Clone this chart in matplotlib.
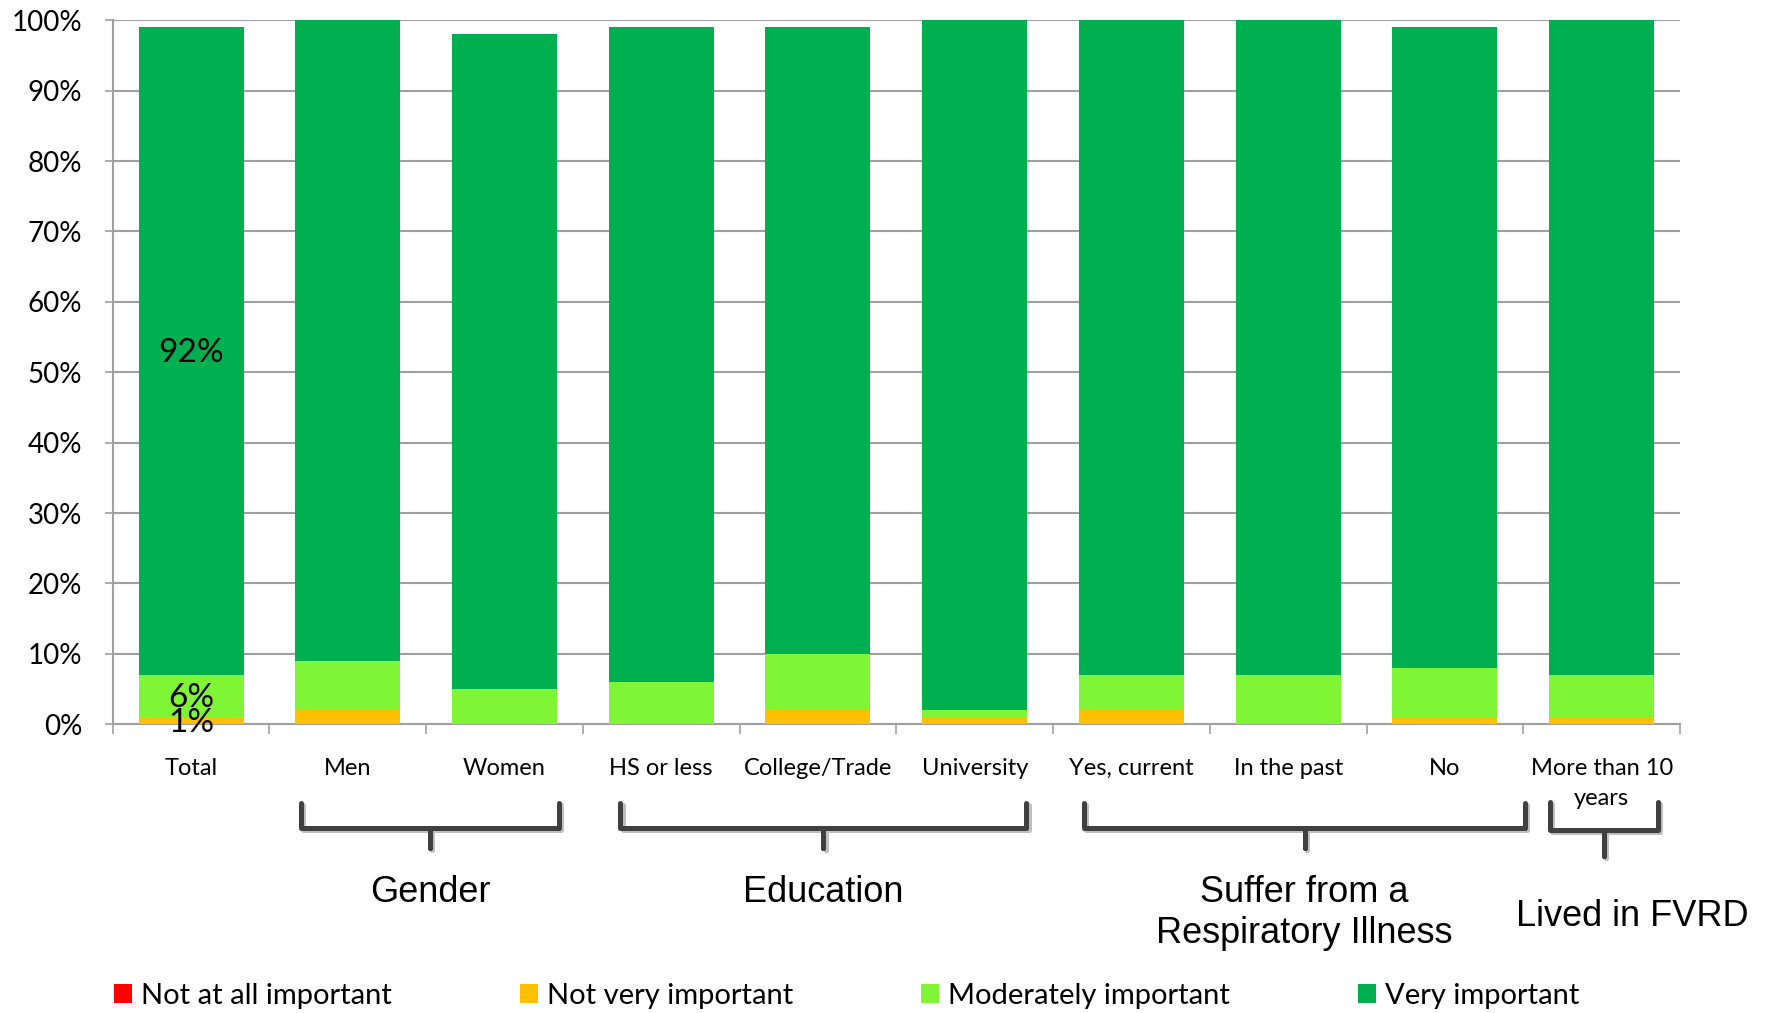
import matplotlib
matplotlib.use("Agg")
import matplotlib.pyplot as plt
import matplotlib.patheffects as pe
import numpy as np
from matplotlib.transforms import blended_transform_factory

# data (percent of respondents)
categories = ["Total", "Men", "Women", "HS or less", "College/Trade", "University",
              "Yes, current", "In the past", "No", "More than 10\nyears"]
not_at_all = [0, 0, 0, 0, 0, 0, 0, 0, 0, 0]
not_very = [1, 2, 0, 0, 2, 1, 2, 0, 1, 1]
moderately = [6, 7, 5, 6, 8, 1, 5, 7, 7, 6]
very = [92, 91, 93, 93, 89, 98, 93, 93, 91, 93]
series_names = ["Not at all important", "Not very important",
                "Moderately important", "Very important"]
groups = ["Gender", "Education", "Suffer from a\nRespiratory Illness", "Lived in FVRD"]
group_members = [(1, 2), (3, 5), (6, 8), (9, 9)]

colors = ["#FF0000", "#FFC000", "#80F535", "#00B050"]
grid_c = "#A0A0A0"

fig = plt.figure(figsize=(17.66, 10.13), dpi=100)
ax = fig.add_axes([0.0638, 0.285, 0.8875, 0.695])

x = np.arange(len(categories))
bottom = np.zeros(len(categories))
for vals, name, col in zip([not_at_all, not_very, moderately, very], series_names, colors):
    vals = np.array(vals, dtype=float)
    ax.bar(x, vals, 0.67, bottom=bottom, color=col, label=name, edgecolor="none", zorder=3)
    bottom += vals

# data labels on the Total bar only (they overlap in the original too)
b = 0
for v in [not_at_all[0], not_very[0], moderately[0], very[0]]:
    if v > 0:
        ax.text(0, b + v / 2 - 0.3, f"{v}%", ha="center", va="center",
                fontsize=24, family="Lato", zorder=4)
    b += v

ax.set_xlim(-0.5, len(categories) - 0.5)
ax.set_ylim(0, 100)
ax.set_yticks(np.arange(0, 101, 10))
ax.set_yticklabels([f"{t}%" for t in range(0, 101, 10)], family="Lato", fontsize=20)
ax.yaxis.grid(True, color=grid_c, linewidth=1.5, zorder=0)
ax.tick_params(axis="y", length=6, width=1.2, color=grid_c, pad=16)

ax.set_xticks(x)
ax.set_xticklabels(categories, family="Lato", fontsize=17, linespacing=1.55)
ax.set_xticks(np.arange(-0.5, len(categories), 1), minor=True)
ax.tick_params(axis="x", which="major", length=0, pad=24)
ax.tick_params(axis="x", which="minor", length=7, width=1.2, color=grid_c)

for s in ["top", "right"]:
    ax.spines[s].set_visible(False)
for s in ["left", "bottom"]:
    ax.spines[s].set_color(grid_c)
    ax.spines[s].set_linewidth(1.5)

# group braces under the category labels
trans = blended_transform_factory(ax.transData, ax.transAxes)
pads = [(0.30, 0.35), (0.26, 0.33), (0.30, 0.51), (0.33, 0.36)]
label_shift = [0, 0, 0, 0.18]
label_y = [-0.239, -0.239, -0.268, -0.273]
for name, (a, z), (pl, pr), dx, ly in zip(groups, group_members, pads, label_shift, label_y):
    x0, x1 = a - pl, z + pr
    xc = (x0 + x1) / 2
    y_top, y_h, y_tip = -0.112, -0.147, -0.175
    if a == z:
        y_top, y_h, y_tip = -0.110, -0.150, -0.187
    ax.plot([x0, x0, xc, xc, xc, x1, x1], [y_top, y_h, y_h, y_tip, y_h, y_h, y_top],
            transform=trans, clip_on=False, color="#404040", linewidth=3.6,
            solid_joinstyle="round", solid_capstyle="round",
            path_effects=[pe.SimpleLineShadow(offset=(1.5, -1.5), shadow_color="gray", alpha=0.5),
                          pe.Normal()])
    ax.text(xc + dx, ly, name, transform=trans, ha="center", va="center",
            fontsize=26, family="Liberation Sans")

fig.legend(loc="center left", bbox_to_anchor=(0.0645, 0.017), ncol=4, frameon=False,
           prop={"family": "Lato", "size": 21}, handlelength=0.62, handleheight=0.62,
           handletextpad=0.3, columnspacing=4.4, borderpad=0, borderaxespad=0)

fig.savefig("out.png", dpi=100)
